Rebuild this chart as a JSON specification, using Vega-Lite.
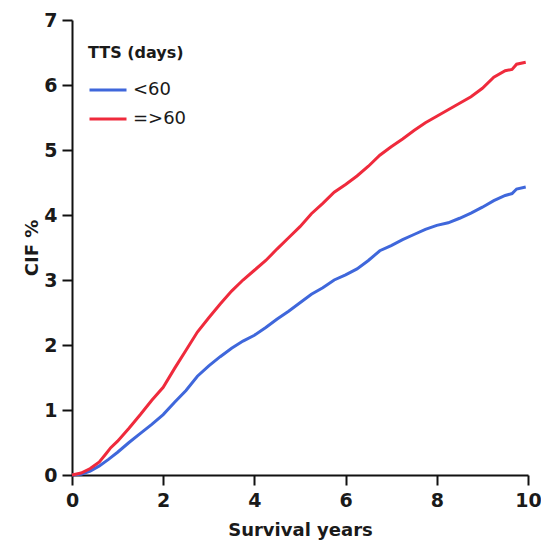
{
  "$schema": "https://vega.github.io/schema/vega-lite/v6.json",
  "autosize": "none",
  "width": 456,
  "height": 455,
  "padding": {"left": 72, "top": 20, "right": 13, "bottom": 70},
  "background": "white",
  "config": {
    "font": "DejaVu Sans",
    "view": {"stroke": null},
    "axis": {
      "grid": false,
      "domainColor": "#111111",
      "domainWidth": 2,
      "tickColor": "#111111",
      "tickWidth": 2,
      "tickSize": 10,
      "labelFont": "DejaVu Sans",
      "labelFontWeight": "bold",
      "labelFontSize": 19,
      "labelColor": "#1a1a1a",
      "titleFont": "DejaVu Sans",
      "titleFontWeight": "bold",
      "titleFontSize": 18,
      "titleColor": "#1a1a1a"
    }
  },
  "data": {
    "values": [
      {"t": 0, "g": "<60", "v": 0},
      {"t": 0.2, "g": "<60", "v": 0.01},
      {"t": 0.4, "g": "<60", "v": 0.06},
      {"t": 0.6, "g": "<60", "v": 0.14},
      {"t": 0.8, "g": "<60", "v": 0.24},
      {"t": 1.0, "g": "<60", "v": 0.35},
      {"t": 1.25, "g": "<60", "v": 0.5},
      {"t": 1.5, "g": "<60", "v": 0.64},
      {"t": 1.75, "g": "<60", "v": 0.78},
      {"t": 2.0, "g": "<60", "v": 0.93},
      {"t": 2.25, "g": "<60", "v": 1.12},
      {"t": 2.5, "g": "<60", "v": 1.3},
      {"t": 2.75, "g": "<60", "v": 1.52},
      {"t": 3.0, "g": "<60", "v": 1.68},
      {"t": 3.25, "g": "<60", "v": 1.82},
      {"t": 3.5, "g": "<60", "v": 1.95},
      {"t": 3.75, "g": "<60", "v": 2.06},
      {"t": 4.0, "g": "<60", "v": 2.15},
      {"t": 4.25, "g": "<60", "v": 2.27},
      {"t": 4.5, "g": "<60", "v": 2.4},
      {"t": 4.75, "g": "<60", "v": 2.52},
      {"t": 5.0, "g": "<60", "v": 2.65},
      {"t": 5.25, "g": "<60", "v": 2.78},
      {"t": 5.5, "g": "<60", "v": 2.88},
      {"t": 5.75, "g": "<60", "v": 3.0},
      {"t": 6.0, "g": "<60", "v": 3.08},
      {"t": 6.25, "g": "<60", "v": 3.17},
      {"t": 6.5, "g": "<60", "v": 3.3},
      {"t": 6.75, "g": "<60", "v": 3.45},
      {"t": 7.0, "g": "<60", "v": 3.53},
      {"t": 7.25, "g": "<60", "v": 3.62},
      {"t": 7.5, "g": "<60", "v": 3.7},
      {"t": 7.75, "g": "<60", "v": 3.78},
      {"t": 8.0, "g": "<60", "v": 3.84},
      {"t": 8.25, "g": "<60", "v": 3.88},
      {"t": 8.5, "g": "<60", "v": 3.95},
      {"t": 8.75, "g": "<60", "v": 4.03},
      {"t": 9.0, "g": "<60", "v": 4.12},
      {"t": 9.25, "g": "<60", "v": 4.22},
      {"t": 9.5, "g": "<60", "v": 4.3},
      {"t": 9.65, "g": "<60", "v": 4.33},
      {"t": 9.75, "g": "<60", "v": 4.4},
      {"t": 9.95, "g": "<60", "v": 4.43},
      {"t": 0, "g": "=>60", "v": 0},
      {"t": 0.2, "g": "=>60", "v": 0.03},
      {"t": 0.4, "g": "=>60", "v": 0.1},
      {"t": 0.6, "g": "=>60", "v": 0.2},
      {"t": 0.75, "g": "=>60", "v": 0.33},
      {"t": 0.85, "g": "=>60", "v": 0.42},
      {"t": 1.0, "g": "=>60", "v": 0.52},
      {"t": 1.25, "g": "=>60", "v": 0.72},
      {"t": 1.5, "g": "=>60", "v": 0.93},
      {"t": 1.75, "g": "=>60", "v": 1.15},
      {"t": 2.0, "g": "=>60", "v": 1.35},
      {"t": 2.25, "g": "=>60", "v": 1.64},
      {"t": 2.5, "g": "=>60", "v": 1.92},
      {"t": 2.75, "g": "=>60", "v": 2.2},
      {"t": 3.0, "g": "=>60", "v": 2.42},
      {"t": 3.25, "g": "=>60", "v": 2.63},
      {"t": 3.5, "g": "=>60", "v": 2.83},
      {"t": 3.75, "g": "=>60", "v": 3.0},
      {"t": 4.0, "g": "=>60", "v": 3.15},
      {"t": 4.25, "g": "=>60", "v": 3.3},
      {"t": 4.5, "g": "=>60", "v": 3.48},
      {"t": 4.75, "g": "=>60", "v": 3.65},
      {"t": 5.0, "g": "=>60", "v": 3.82},
      {"t": 5.25, "g": "=>60", "v": 4.02},
      {"t": 5.5, "g": "=>60", "v": 4.18},
      {"t": 5.75, "g": "=>60", "v": 4.35},
      {"t": 6.0, "g": "=>60", "v": 4.47},
      {"t": 6.25, "g": "=>60", "v": 4.6},
      {"t": 6.5, "g": "=>60", "v": 4.75},
      {"t": 6.75, "g": "=>60", "v": 4.92},
      {"t": 7.0, "g": "=>60", "v": 5.05},
      {"t": 7.25, "g": "=>60", "v": 5.17},
      {"t": 7.5, "g": "=>60", "v": 5.3},
      {"t": 7.75, "g": "=>60", "v": 5.42},
      {"t": 8.0, "g": "=>60", "v": 5.52},
      {"t": 8.25, "g": "=>60", "v": 5.62},
      {"t": 8.5, "g": "=>60", "v": 5.72},
      {"t": 8.75, "g": "=>60", "v": 5.82},
      {"t": 9.0, "g": "=>60", "v": 5.95},
      {"t": 9.25, "g": "=>60", "v": 6.12},
      {"t": 9.5, "g": "=>60", "v": 6.22},
      {"t": 9.65, "g": "=>60", "v": 6.24},
      {"t": 9.75, "g": "=>60", "v": 6.32},
      {"t": 9.95, "g": "=>60", "v": 6.35}
    ]
  },
  "mark": {"type": "line", "strokeWidth": 3, "interpolate": "linear"},
  "encoding": {
    "x": {
      "field": "t", "type": "quantitative",
      "scale": {"domain": [0, 10], "nice": false, "zero": true},
      "axis": {"values": [0, 2, 4, 6, 8, 10], "title": "Survival years", "labelPadding": 6, "titlePadding": 11, "labelFlush": false}
    },
    "y": {
      "field": "v", "type": "quantitative",
      "scale": {"domain": [0, 7], "nice": false},
      "axis": {"values": [0, 1, 2, 3, 4, 5, 6, 7], "title": "CIF %", "labelPadding": 5, "titlePadding": 2, "labelFlush": false}
    },
    "color": {
      "field": "g", "type": "nominal",
      "scale": {"domain": ["<60", "=>60"], "range": ["#3f67db", "#ef2a3c"]},
      "legend": {
        "title": "TTS (days)",
        "orient": "none",
        "legendX": 16,
        "legendY": 25,
        "symbolType": "stroke",
        "symbolSize": 1369,
        "symbolStrokeWidth": 3,
        "titleFont": "DejaVu Sans",
        "titleFontSize": 16,
        "titleFontWeight": "bold",
        "titleColor": "#1a1a1a",
        "titlePadding": 9,
        "labelFont": "DejaVu Sans",
        "labelFontSize": 18,
        "labelColor": "#1a1a1a",
        "labelOffset": 5,
        "rowPadding": 0
      }
    }
  }
}
